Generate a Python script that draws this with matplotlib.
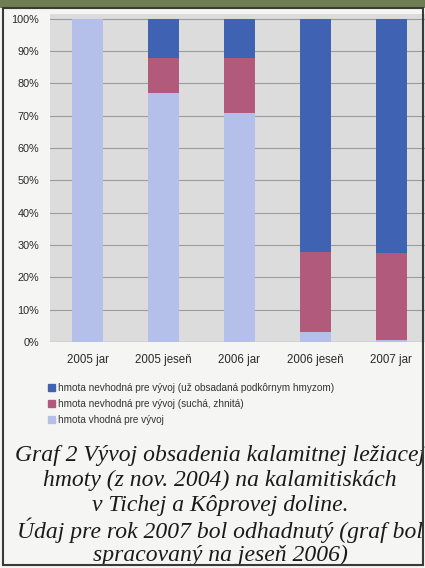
import matplotlib
matplotlib.use("Agg")
import matplotlib.pyplot as plt
from matplotlib.patches import Rectangle, Patch
import numpy as np

categories = ["2005 jar", "2005 jeseň", "2006 jar", "2006 jeseň", "2007 jar"]
vhodna = [100, 77, 71, 3, 0.5]
nevhodna_sucha = [0, 11, 17, 25, 27]
nevhodna_obsadena = [0, 12, 12, 72, 72.5]
labels = ["hmota nevhodná pre vývoj (už obsadaná podkôrnym hmyzom)",
          "hmota nevhodná pre vývoj (suchá, zhnitá)",
          "hmota vhodná pre vývoj"]
yticks = [0, 10, 20, 30, 40, 50, 60, 70, 80, 90, 100]
caption = ["Graf 2 Vývoj obsadenia kalamitnej ležiacej",
           "hmoty (z nov. 2004) na kalamitiskách",
           "v Tichej a Kôprovej doline.",
           "Údaj pre rok 2007 bol odhadnutý (graf bol",
           "spracovaný na jeseň 2006)"]

c_blue = "#3f62b3"
c_pink = "#b15a7b"
c_light = "#b4c0ea"

W, H = 425, 568
fig = plt.figure(figsize=(W / 100, H / 100), dpi=100)
fig.patch.set_facecolor("#f5f5f3")

def fx(px):
    return px / W

def fy(py):
    return 1 - py / H

# top photo strip and frame
fig.add_artist(Rectangle((0, fy(8)), 1, 8 / H, transform=fig.transFigure,
                         facecolor="#6f7d52", edgecolor="none", zorder=0))
fig.add_artist(Rectangle((fx(3), fy(565)), fx(420), (565 - 8) / H, transform=fig.transFigure,
                         facecolor="none", edgecolor="#3a3a3a", lw=1.5, zorder=5))

ax = fig.add_axes([fx(50), fy(342), fx(379), (342 - 14) / H])
ax.set_facecolor("#dcdcdc")
x = np.arange(len(categories))
w = 0.41
ax.bar(x, vhodna, w, color=c_light, zorder=3)
ax.bar(x, nevhodna_sucha, w, bottom=vhodna, color=c_pink, zorder=3)
bottom2 = np.array(vhodna) + np.array(nevhodna_sucha)
ax.bar(x, nevhodna_obsadena, w, bottom=bottom2, color=c_blue, zorder=3)

ax.set_xlim(-0.5, len(categories) - 0.5)
ax.set_ylim(0, 101.5)
ax.set_yticks(yticks)
ax.set_yticklabels([f"{v}%" for v in yticks], fontsize=7.8, color="#2a2a2a",
                   family="Liberation Sans")
ax.set_xticks(x)
ax.set_xticklabels(categories, fontsize=8.3, color="#2a2a2a", family="Liberation Sans")
ax.tick_params(axis="both", length=0)
ax.tick_params(axis="y", pad=8)
ax.tick_params(axis="x", pad=9)
ax.grid(axis="y", color="#9c9c9c", lw=0.8, zorder=1)
for s in ax.spines.values():
    s.set_visible(False)
ax.axhline(0, color="#8a8a8a", lw=0.8, zorder=2)

handles = [Patch(color=c_blue), Patch(color=c_pink), Patch(color=c_light)]
fig.legend(handles, labels, loc="upper left", bbox_to_anchor=(fx(39), fy(374)),
           frameon=False, prop={"family": "Liberation Sans", "size": 7.2},
           handlelength=0.65, handleheight=0.65, handletextpad=0.4, labelspacing=0.6,
           labelcolor="#333333")

ys = [456, 480, 505, 530, 555]
for t, yy in zip(caption, ys):
    fig.text(fx(220), fy(yy), t, ha="center", va="center", fontsize=17,
             family="Liberation Serif", style="italic", color="#1a1a1a")

fig.savefig("out.png", dpi=100, facecolor=fig.get_facecolor())
